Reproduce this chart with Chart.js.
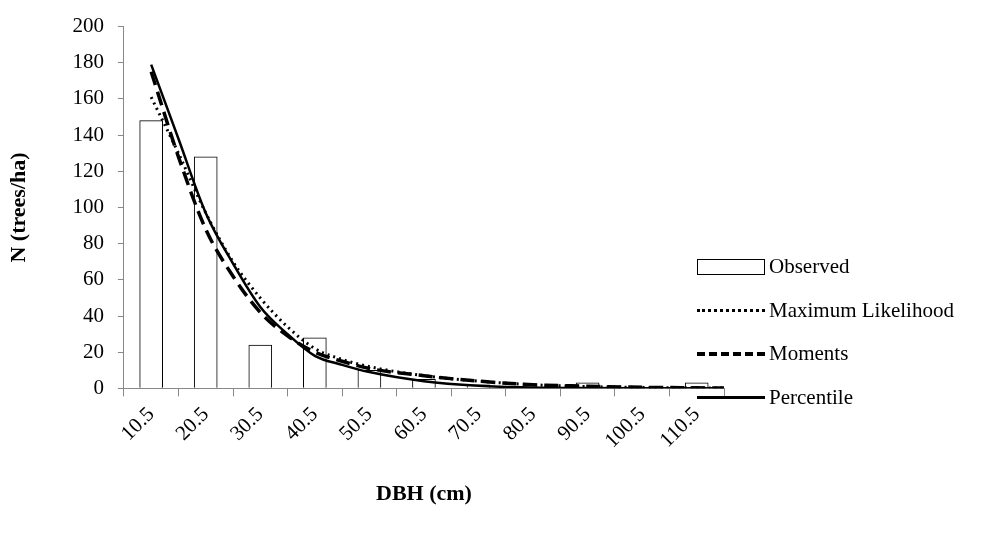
<!DOCTYPE html>
<html lang="en">
<head>
  <meta charset="UTF-8">
  <title>DBH distribution</title>
  <script src="https://cdn.jsdelivr.net/npm/chart.js"></script>
  <style>
    body { margin: 0; background: #fff; font-family: "Liberation Serif", serif; }
    #wrap { position: relative; width: 1004px; height: 546px; }
    .leg { position: absolute; left: 697px; font-size: 21px; color: #000; display: flex; align-items: center; white-space: nowrap; }
    .leg .mark { width: 68px; margin-right: 4px; }
  </style>
</head>
<body>
  <div id="wrap">
    <canvas id="chart" width="1004" height="546"></canvas>
    <div class="leg" style="top:254px"><div class="mark" style="height:16px;border:1px solid #000;box-sizing:border-box;"></div>Observed</div>
    <div class="leg" style="top:298px"><div class="mark" style="border-top:3px dotted #000;"></div>Maximum Likelihood</div>
    <div class="leg" style="top:341px"><div class="mark" style="border-top:4px dashed #000;"></div>Moments</div>
    <div class="leg" style="top:385px"><div class="mark" style="border-top:3px solid #000;"></div>Percentile</div>
  </div>
  <script>
    const categories = [10.5, 20.5, 30.5, 40.5, 50.5, 60.5, 70.5, 80.5, 90.5, 100.5, 110.5];
    const observed = [148, 128, 24, 28, 10, 5, 2, 0, 3, 0, 3];
    const classEdges = [5.5, 15.5, 25.5, 35.5, 45.5, 55.5, 65.5, 75.5, 85.5, 95.5, 105.5, 115.5];

    // curve points (DBH, trees/ha)
    const curveX = [10.5, 15.5, 20.5, 25.5, 30.5, 35.5, 40.5, 45.5, 50.5, 60.5, 70.5, 80.5, 90.5, 100.5, 110.5, 115.5];
    const maxLik = [161, 130, 97, 70, 50, 34, 22, 16, 12, 7, 4, 2, 1, 0.5, 0.3, 0.2];
    const moments = [175, 128, 88, 62, 42, 29, 20, 15, 11, 7, 4, 2, 1.2, 0.6, 0.3, 0.2];
    const percentile = [179, 138, 97, 69, 45, 30, 18, 13, 9, 4, 1.5, 0.5, 0.2, 0.1, 0.05, 0];

    const pts = vals => vals.map((v, i) => ({ x: curveX[i], y: v }));
    const lineDs = (label, vals, dash, width) => ({
      type: 'line', label, data: pts(vals), order: 0,
      borderColor: '#000', borderWidth: width, borderDash: dash,
      pointRadius: 0, cubicInterpolationMode: 'monotone', fill: false
    });

    // edges carry the tick marks, centres carry the labels
    const isCentre = v => categories.includes(v);
    const allTicks = [...classEdges, ...categories].sort((a, b) => a - b);

    new Chart(document.getElementById('chart'), {
      data: {
        datasets: [
          { type: 'bar', label: 'Observed', order: 1,
            data: observed.map((v, i) => ({ x: categories[i], y: v })),
            backgroundColor: '#fff', borderColor: '#000', borderWidth: 1, barThickness: 23 },
          lineDs('Maximum Likelihood', maxLik, [2, 4], 3),
          lineDs('Moments', moments, [14, 7], 3.5),
          lineDs('Percentile', percentile, [], 2.5)
        ]
      },
      options: {
        responsive: false,
        animation: false,
        layout: { padding: { top: 0, right: 280, left: 2, bottom: 38 } },
        plugins: { legend: { display: false }, tooltip: { enabled: false } },
        scales: {
          xt: {
            type: 'linear', position: 'bottom', weight: 0, min: 5.5, max: 115.5,
            afterBuildTicks: s => { s.ticks = allTicks.map(v => ({ value: v })); },
            grid: { display: true, drawOnChartArea: false, tickLength: 8,
                    color: ctx => (ctx.tick && isCentre(ctx.tick.value) ? 'rgba(0,0,0,0)' : '#888') },
            border: { color: '#888' },
            ticks: { color: '#000', font: { family: 'Liberation Serif', size: 21 }, maxRotation: 45, minRotation: 45, padding: 6,
                     autoSkip: false, callback: v => (isCentre(v) ? v.toFixed(1) : '') }
          },
          x: {
            type: 'linear', position: 'bottom', weight: 5, min: 5.5, max: 115.5,
            grid: { display: false },
            border: { display: false },
            ticks: { display: false },
            title: { display: true, text: 'DBH (cm)', color: '#000', font: { family: 'Liberation Serif', size: 22, weight: 'bold' }, padding: { top: 14, bottom: 0 } }
          },
          y: {
            min: 0, max: 200,
            ticks: { stepSize: 20, color: '#000', font: { family: 'Liberation Serif', size: 21 }, padding: 14 },
            grid: { display: true, drawOnChartArea: false, drawTicks: true, tickLength: 6, color: '#888' },
            border: { color: '#888' },
            title: { display: true, text: 'N (trees/ha)', color: '#000', font: { family: 'Liberation Serif', size: 22, weight: 'bold' }, padding: { bottom: 26 } }
          }
        }
      }
    });
  </script>
</body>
</html>
